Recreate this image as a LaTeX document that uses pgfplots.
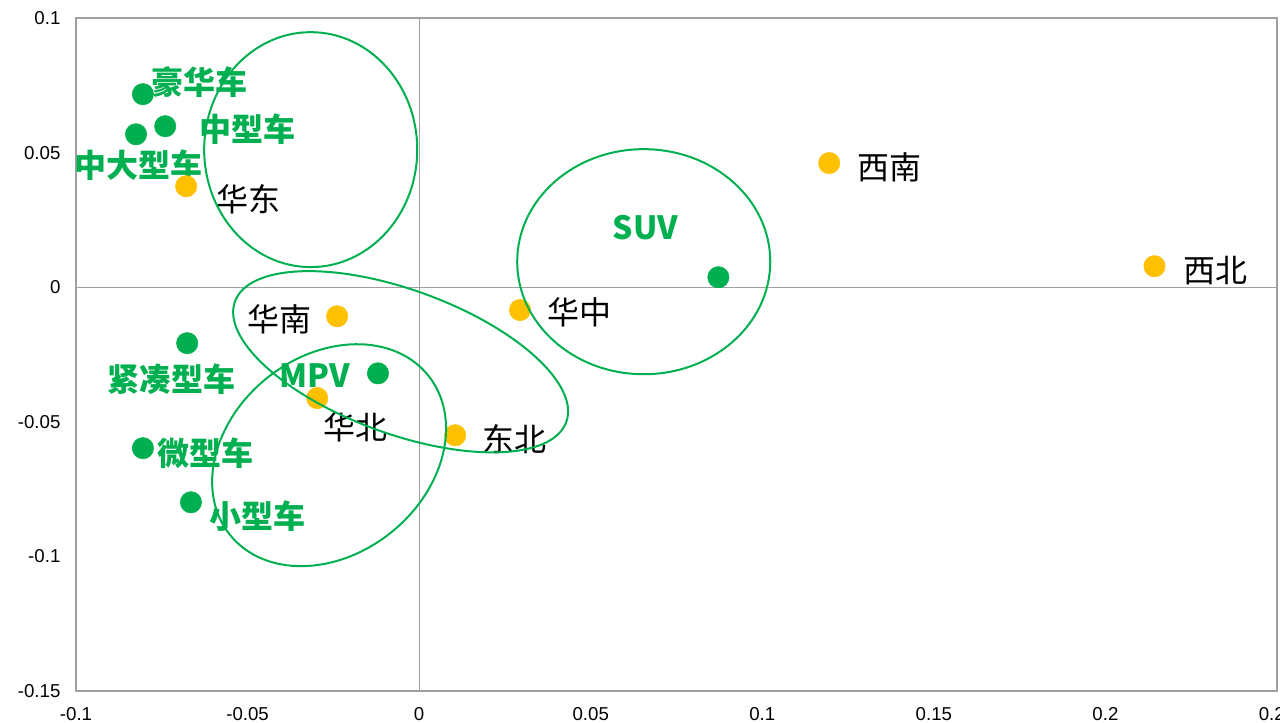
\documentclass[border=0pt]{standalone}
\usepackage{fontspec}
\setmainfont{Liberation Sans}
\newfontfamily\cjk{Noto Sans CJK SC}
\usepackage{pgfplots}
\usepackage{pgfplotstable}
\pgfplotsset{compat=1.18}
\usetikzlibrary{calc}
\definecolor{cgreen}{RGB}{0,176,80}
\definecolor{corange}{RGB}{255,192,0}
\definecolor{axgray}{RGB}{160,160,160}

% x y dx(px) dy(px) label
\pgfplotstableread{
x y dx dy label
-0.0805 0.0717 57 12 豪华车
-0.0740 0.0598 82 -3 中型车
-0.0825 0.0568 2 -31 中大型车
-0.0676 -0.0208 -16 -36 紧凑型车
-0.0120 -0.0320 -63.5 -2 MPV
-0.0805 -0.0598 63 -5 微型车
-0.0665 -0.0799 66.5 -14 小型车
0.0872 0.0037 -73 50 SUV
}\cartypes

\pgfplotstableread{
x y dx dy label
-0.0679 0.0375 62.5 -13 华东
0.1195 0.0461 60 -4 西南
0.2143 0.0078 60.5 -4 西北
-0.0239 -0.0108 -58 -3 华南
0.0294 -0.0085 59 -2 华中
-0.0297 -0.0412 38.5 -29 华北
0.0105 -0.0550 59 -4 东北
}\regions

\begin{document}
\begin{tikzpicture}
\begin{axis}[
  name=ax,
  scale only axis,
  width=900.75pt, height=504.75pt,
  xmin=-0.1, xmax=0.25, ymin=-0.15, ymax=0.1,
  axis line style={draw=axgray, line width=1.5pt},
  xtick={-0.1,-0.05,0,0.05,0.1,0.15,0.2,0.25},
  xticklabels={-0.1,-0.05,0,0.05,0.1,0.15,0.2,0.25},
  ytick={-0.15,-0.1,-0.05,0,0.05,0.1},
  yticklabels={-0.15,-0.1,-0.05,0,0.05,0.1},
  major tick length=0pt,
  tick style={draw=none},
  ticklabel style={font=\fontsize{14}{16}\selectfont, text=black},
  xticklabel style={inner sep=0pt, anchor=north, yshift=-12pt},
  yticklabel style={inner sep=0pt, anchor=east, xshift=-11.5pt},
  clip=false,
]
\addplot[draw=axgray, line width=0.75pt] coordinates {(0,-0.15) (0,0.1)};
\addplot[draw=axgray, line width=0.75pt] coordinates {(-0.1,0) (0.25,0)};

\addplot[color=cgreen, only marks, mark=*, mark size=8pt,
  mark options={draw=cgreen, fill=cgreen, line width=0.4pt},
  point meta=explicit symbolic,
  visualization depends on={\thisrow{dx} \as \dx},
  visualization depends on={\thisrow{dy} \as \dy},
  nodes near coords,
  every node near coord/.append style={anchor=center, inner sep=0pt,
    xshift={0.75pt*\dx}, yshift={0.75pt*\dy},
    font=\fontsize{24}{28}\selectfont\cjk\bfseries, text=cgreen},
] table[x=x, y=y, meta=label] {\cartypes};

\addplot[color=corange, only marks, mark=*, mark size=8pt,
  mark options={draw=corange, fill=corange, line width=0.4pt},
  point meta=explicit symbolic,
  visualization depends on={\thisrow{dx} \as \dx},
  visualization depends on={\thisrow{dy} \as \dy},
  nodes near coords,
  every node near coord/.append style={anchor=center, inner sep=0pt,
    xshift={0.75pt*\dx}, yshift={0.75pt*\dy},
    font=\fontsize{24}{28}\selectfont\cjk, text=black},
] table[x=x, y=y, meta=label] {\regions};

\coordinate (E1) at (axis cs:-0.0316,0.0511);
\coordinate (E2) at (axis cs:0.06545,0.00947);
\coordinate (E3) at (axis cs:-0.0054,-0.0277);
\coordinate (E4) at (axis cs:-0.02624,-0.0624);
\end{axis}
\draw[cgreen, line width=1.5pt] (E1) ellipse [x radius=79.9pt, y radius=88.1pt];
\draw[cgreen, line width=1.5pt] (E2) ellipse [x radius=94.9pt, y radius=84.4pt];
\draw[cgreen, line width=1.5pt, rotate around={-20:(E3)}] (E3) ellipse [x radius=132.2pt, y radius=54pt];
\draw[cgreen, line width=1.5pt, rotate around={38.8:(E4)}] (E4) ellipse [x radius=95.4pt, y radius=74.3pt];
\pgfresetboundingbox
\path[use as bounding box] ($(ax.south west)+(-57pt,-24pt)$) rectangle ($(ax.north east)+(2.25pt,13.5pt)$);
\end{tikzpicture}
\end{document}
